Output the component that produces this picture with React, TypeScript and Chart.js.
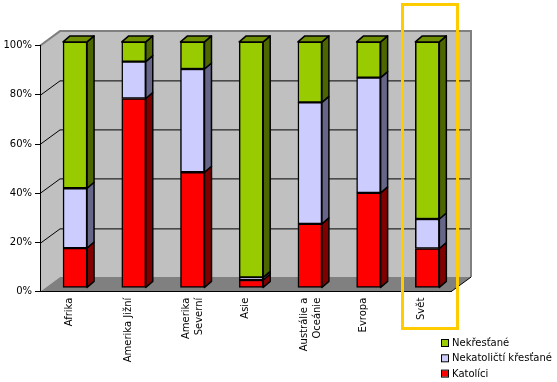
import React, { useEffect, useRef } from "react";
import { Chart, registerables } from "chart.js";

Chart.register(...registerables);

const categories: (string | string[])[] = [
  "Afrika",
  "Amerika Jižní",
  ["Amerika", "Severní"],
  "Asie",
  ["Austrálie a", "Oceánie"],
  "Evropa",
  "Svět",
];
const katolici = [16.2, 77, 47, 3.2, 26, 38.6, 16];
const nekatolicti = [24.3, 15, 42, 1.1, 49.4, 46.9, 12];
const nekrestane = [59.5, 8, 11, 95.7, 24.6, 14.5, 72];
const seriesNames = ["Katolíci", "Nekatoličtí křesťané", "Nekřesťané"];
const yTickValues = [0, 20, 40, 60, 80, 100];

const FRONT = ["#FF0000", "#CCCCFF", "#99CC00"];
const SIDE = ["#800000", "#666688", "#4D6600"];
const TOP = ["#B00000", "#9999CC", "#6E8F00"];

const WALL_DX = 20;
const WALL_DY = -14.6;
const BAR_SHIFT_X = 5.7;
const BAR_SHIFT_Y = -3.8;
const BAR_DX = 7;
const BAR_DY = -6;

function poly(ctx: CanvasRenderingContext2D, pts: number[][]) {
  ctx.beginPath();
  ctx.moveTo(pts[0][0], pts[0][1]);
  for (let i = 1; i < pts.length; i++) ctx.lineTo(pts[i][0], pts[i][1]);
  ctx.closePath();
}

const background3d = {
  id: "background3d",
  beforeDraw(chart: any) {
    const { ctx, chartArea } = chart;
    const { left, right, top, bottom } = chartArea;
    const y = chart.scales.y;
    ctx.save();
    ctx.fillStyle = "#FFFFFF";
    ctx.fillRect(0, 0, chart.width, chart.height);
    // back wall
    ctx.fillStyle = "#C0C0C0";
    ctx.fillRect(left + WALL_DX, top + WALL_DY, right - left, bottom - top);
    // left wall
    poly(ctx, [
      [left, top],
      [left + WALL_DX, top + WALL_DY],
      [left + WALL_DX, bottom + WALL_DY],
      [left, bottom],
    ]);
    ctx.fill();
    // floor
    ctx.fillStyle = "#808080";
    poly(ctx, [
      [left, bottom],
      [left + WALL_DX, bottom + WALL_DY],
      [right + WALL_DX, bottom + WALL_DY],
      [right, bottom],
    ]);
    ctx.fill();
    // gridlines
    ctx.strokeStyle = "#000000";
    ctx.lineWidth = 1;
    for (const v of yTickValues) {
      if (v === 0 || v === 100) continue;
      const yy = Math.round(y.getPixelForValue(v)) + 0.5;
      ctx.beginPath();
      ctx.moveTo(left, yy);
      ctx.lineTo(left + WALL_DX, yy + WALL_DY);
      ctx.lineTo(right + WALL_DX, yy + WALL_DY);
      ctx.stroke();
    }
    // wall edges
    ctx.strokeStyle = "#808080";
    ctx.lineWidth = 2;
    ctx.beginPath();
    ctx.moveTo(left, top);
    ctx.lineTo(left + WALL_DX, top + WALL_DY);
    ctx.lineTo(right + WALL_DX, top + WALL_DY);
    ctx.lineTo(right + WALL_DX, bottom + WALL_DY);
    ctx.stroke();
    ctx.lineWidth = 1;
    ctx.strokeStyle = "#000000";
    ctx.beginPath();
    ctx.moveTo(right, bottom);
    ctx.lineTo(right + WALL_DX, bottom + WALL_DY);
    ctx.stroke();
    ctx.restore();
  },
};

const bars3d = {
  id: "bars3d",
  beforeDatasetsDraw(chart: any) {
    chart.ctx.save();
    chart.ctx.translate(BAR_SHIFT_X, BAR_SHIFT_Y);
  },
  afterDatasetsDraw(chart: any) {
    const ctx = chart.ctx as CanvasRenderingContext2D;
    const n = chart.data.datasets.length;
    ctx.lineWidth = 1.5;
    ctx.strokeStyle = "#000000";
    ctx.lineJoin = "round";
    for (let d = 0; d < n; d++) {
      const meta = chart.getDatasetMeta(d);
      meta.data.forEach((el: any) => {
        const { x, y, base, width } = el.getProps(["x", "y", "base", "width"], true);
        const xl = x - width / 2;
        const xr = x + width / 2;
        // side face
        ctx.fillStyle = SIDE[d];
        poly(ctx, [
          [xr, y],
          [xr + BAR_DX, y + BAR_DY],
          [xr + BAR_DX, base + BAR_DY],
          [xr, base],
        ]);
        ctx.fill();
        ctx.stroke();
        if (d === n - 1) {
          ctx.fillStyle = TOP[d];
          poly(ctx, [
            [xl, y],
            [xl + BAR_DX, y + BAR_DY],
            [xr + BAR_DX, y + BAR_DY],
            [xr, y],
          ]);
          ctx.fill();
          ctx.stroke();
        }
      });
    }
    ctx.restore();
  },
};

const overlay = {
  id: "overlay",
  afterDraw(chart: any) {
    const ctx = chart.ctx as CanvasRenderingContext2D;
    ctx.save();
    // highlight box around "Svět"
    ctx.strokeStyle = "#FFCC00";
    ctx.lineWidth = 3;
    ctx.strokeRect(402.5, 4.5, 55, 324);
    // legend
    ctx.font = "10px 'DejaVu Sans'";
    ctx.textBaseline = "middle";
    ctx.textAlign = "left";
    const ds = chart.data.datasets;
    const x0 = 442;
    const y0 = 343;
    const step = 15.3;
    for (let i = 0; i < ds.length; i++) {
      const d = ds.length - 1 - i;
      const yc = y0 + i * step;
      ctx.fillStyle = ds[d].backgroundColor;
      ctx.fillRect(x0, yc - 3, 6, 6);
      ctx.strokeStyle = "#000";
      ctx.lineWidth = 1;
      ctx.strokeRect(x0 - 0.5, yc - 3.5, 7, 7);
      ctx.fillStyle = "#000";
      ctx.fillText(ds[d].label, x0 + 10, yc + 0.5);
    }
    ctx.restore();
  },
};

export default function App() {
  const ref = useRef<HTMLCanvasElement | null>(null);
  useEffect(() => {
    if (!ref.current) return;
    Chart.defaults.font.family = "'DejaVu Sans', Verdana, sans-serif";
    Chart.defaults.font.size = 10;
    Chart.defaults.color = "#000000";
    const values = [katolici, nekatolicti, nekrestane];
    const chart = new Chart(ref.current, {
      type: "bar",
      data: {
        labels: categories,
        datasets: values.map((v, i) => ({
          label: seriesNames[i],
          data: v,
          backgroundColor: FRONT[i],
          borderColor: "#000000",
          borderWidth: 1.5,
          borderSkipped: false,
          barThickness: 24,
        })),
      },
      options: {
        animation: false,
        responsive: false,
        events: [],
        layout: { padding: { top: 45.7, left: 0, right: 106, bottom: 0 } },
        plugins: { legend: { display: false }, tooltip: { enabled: false } },
        scales: {
          x: {
            stacked: true,
            grid: { display: false, drawTicks: false, tickLength: 0 },
            border: { display: true, color: "#000000", width: 1 },
            ticks: {
              autoSkip: false,
              maxRotation: 90,
              minRotation: 90,
              padding: 6,
              font: { size: 10, lineHeight: 1.3 },
              color: "#000000",
            },
            afterFit(scale: any) {
              scale.height = 90.3;
            },
          },
          y: {
            stacked: true,
            min: 0,
            max: 100,
            grid: { drawOnChartArea: false, drawTicks: true, tickLength: 5, color: "#000000" },
            border: { display: true, color: "#000000", width: 1 },
            ticks: {
              stepSize: 20,
              padding: 3,
              color: "#000000",
              callback: (v: any) => v + "%",
            },
            afterFit(scale: any) {
              scale.width = 40;
            },
          },
        },
      },
      plugins: [background3d, bars3d, overlay],
    });
    return () => chart.destroy();
  }, []);
  return (
    <div style={{ position: "fixed", left: 0, top: 0, width: 557, height: 382, background: "#fff" }}>
      <canvas ref={ref} width={557} height={382} />
    </div>
  );
}
